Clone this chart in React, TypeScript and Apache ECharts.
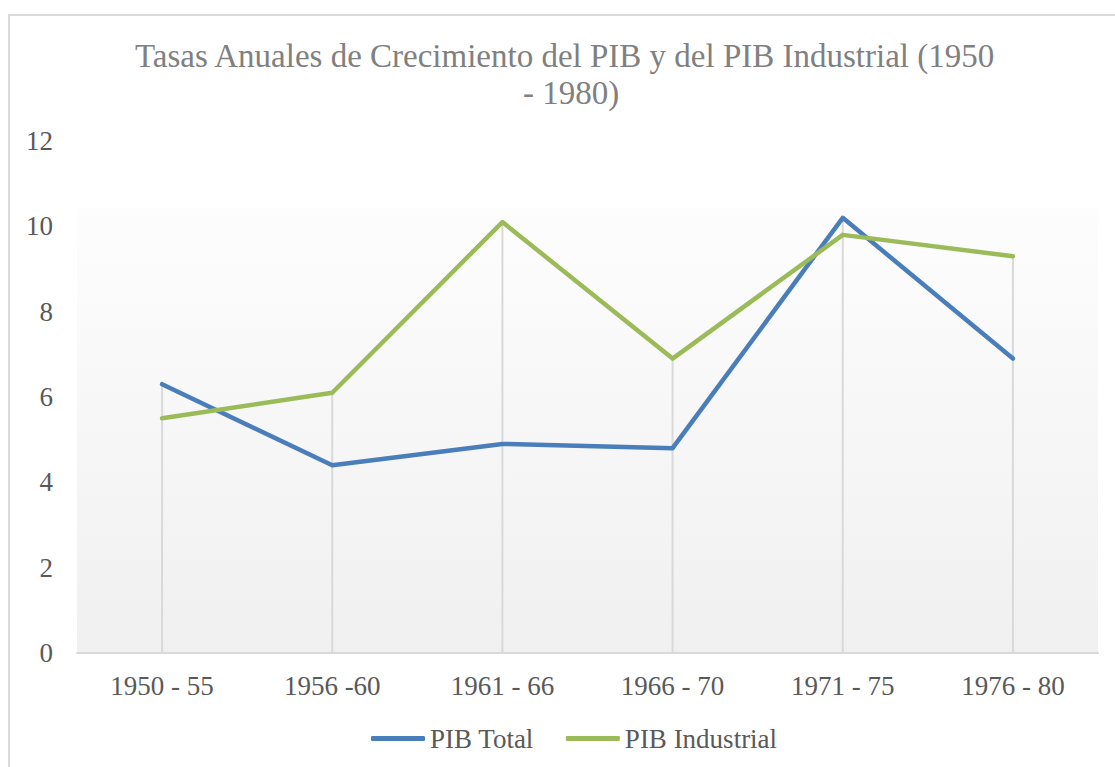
import React, { useEffect, useRef } from "react";
import * as echarts from "echarts";

const categories = ["1950 - 55", "1956 -60", "1961 - 66", "1966 - 70", "1971 - 75", "1976 - 80"];
const pibTotal = [6.3, 4.4, 4.9, 4.8, 10.2, 6.9];
const pibIndustrial = [5.5, 6.1, 10.1, 6.9, 9.8, 9.3];
const yTicks = { min: 0, max: 12, interval: 2 };
const titleLines = ["Tasas Anuales de Crecimiento del PIB y del PIB Industrial (1950", "- 1980)"];

const FONT = "'Liberation Serif', 'Times New Roman', serif";

export default function App() {
  const ref = useRef<HTMLDivElement>(null);
  useEffect(() => {
    if (!ref.current) return;
    const chart = echarts.init(ref.current, null, { renderer: "svg" });
    const dropData = categories.map((_, i) => [i, Math.max(pibTotal[i], pibIndustrial[i])]);
    const titleStyle = {
      fontFamily: FONT,
      fontSize: 33,
      fontWeight: "normal",
      color: "#808080",
      lineHeight: 38,
    };
    chart.setOption({
      animation: false,
      backgroundColor: "#ffffff",
      title: [
        { text: titleLines[0], left: 130, top: 32, textStyle: titleStyle },
        { text: titleLines[1], left: 518, top: 69, textStyle: titleStyle },
      ],
      graphic: [
        {
          type: "rect",
          shape: { x: 9, y: 15, width: 1300, height: 900 },
          style: { fill: "none", stroke: "#d9d9d9", lineWidth: 2 },
          silent: true,
          z: 100,
        },
      ],
      legend: {
        left: 366,
        top: 720,
        icon: "roundRect",
        itemWidth: 54,
        itemHeight: 5,
        itemGap: 32,
        itemTextGap: 4,
        textStyle: { fontFamily: FONT, fontSize: 27, color: "#595959" },
        data: ["PIB Total", "PIB Industrial"],
      },
      grid: {
        left: 77,
        right: 17,
        top: 141,
        bottom: 114,
        show: true,
        borderWidth: 0,
        backgroundColor: {
          type: "linear",
          x: 0,
          y: 0,
          x2: 0,
          y2: 1,
          colorStops: [
            { offset: 0, color: "#ffffff" },
            { offset: 0.13, color: "#ffffff" },
            { offset: 0.131, color: "#fdfdfd" },
            { offset: 1, color: "#f0f0f0" },
          ],
        },
      },
      xAxis: {
        type: "category",
        data: categories,
        boundaryGap: true,
        axisTick: { show: false },
        axisLine: { show: true, lineStyle: { color: "#d9d9d9", width: 2 } },
        axisLabel: { fontFamily: FONT, fontSize: 27, color: "#595959", margin: 19 },
        splitLine: { show: false },
      },
      yAxis: {
        type: "value",
        min: yTicks.min,
        max: yTicks.max,
        interval: yTicks.interval,
        axisLine: { show: false },
        axisTick: { show: false },
        splitLine: { show: false },
        axisLabel: { fontFamily: FONT, fontSize: 27, color: "#595959", margin: 24 },
      },
      series: [
        {
          type: "custom",
          name: "drop",
          data: dropData,
          z: 1,
          silent: true,
          renderItem: (params: any, api: any) => {
            const i = api.value(0);
            const top = api.coord([i, api.value(1)]);
            const bottom = api.coord([i, 0]);
            return {
              type: "line",
              shape: { x1: top[0], y1: top[1], x2: bottom[0], y2: bottom[1] },
              style: { stroke: "#d9d9d9", lineWidth: 2 },
            };
          },
        },
        {
          type: "line",
          name: "PIB Total",
          data: pibTotal,
          symbol: "none",
          z: 3,
          color: "#4a7ebb",
          lineStyle: { width: 4.5, color: "#4a7ebb", cap: "round", join: "round" },
        },
        {
          type: "line",
          name: "PIB Industrial",
          data: pibIndustrial,
          symbol: "none",
          z: 4,
          color: "#9bbb59",
          lineStyle: { width: 4.5, color: "#9bbb59", cap: "round", join: "round" },
        },
      ],
    });
    return () => chart.dispose();
  }, []);
  return (
    <div
      ref={ref}
      style={{ position: "fixed", left: 0, top: 0, width: 1115, height: 767 }}
    />
  );
}
